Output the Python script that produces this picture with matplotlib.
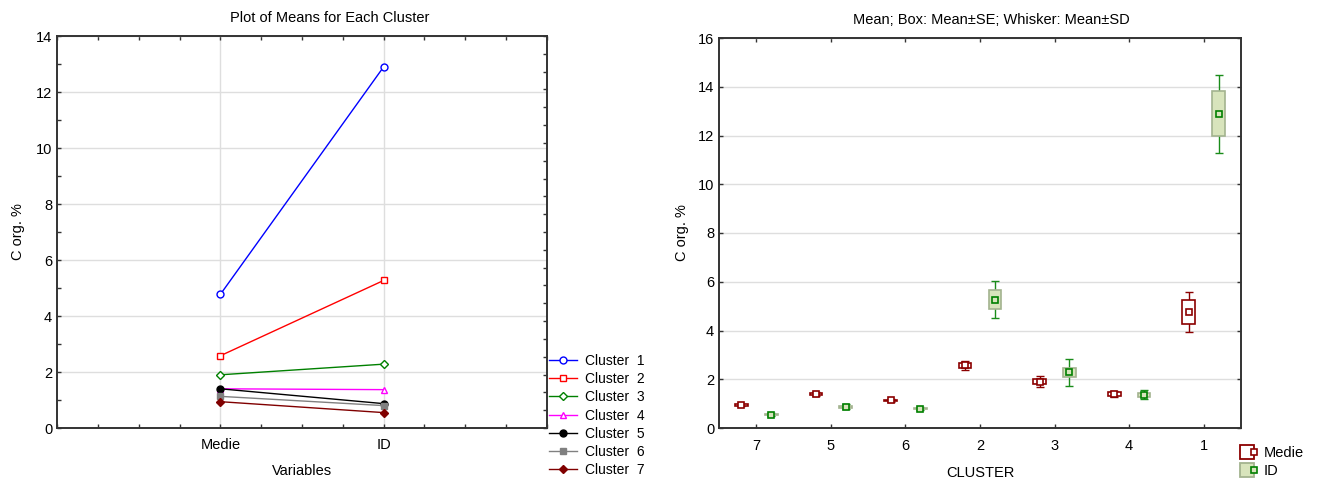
import numpy as np
import matplotlib
matplotlib.use("Agg")
import matplotlib.pyplot as plt
from matplotlib.lines import Line2D
from matplotlib.legend_handler import HandlerTuple
from matplotlib.ticker import MultipleLocator, FixedLocator

plt.rcParams['font.family'] = ['Liberation Sans', 'DejaVu Sans']

# ---- data ----
variables = ["Medie", "ID"]
cluster_ids = [1, 2, 3, 4, 5, 6, 7]
medie_mean = [4.77, 2.58, 1.90, 1.40, 1.40, 1.13, 0.94]
id_mean = [12.90, 5.27, 2.28, 1.37, 0.87, 0.80, 0.55]
medie_se = [0.49, 0.10, 0.10, 0.07, 0.04, 0.03, 0.03]
medie_sd = [0.83, 0.18, 0.22, 0.13, 0.08, 0.07, 0.05]
id_se = [0.93, 0.39, 0.17, 0.08, 0.05, 0.03, 0.03]
id_sd = [1.60, 0.75, 0.54, 0.18, 0.10, 0.06, 0.05]
cluster_order = [7, 5, 6, 2, 3, 4, 1]

line_colors = ["#0000ff", "#ff0000", "#008000", "#ff00ff", "#000000", "#808080", "#800000"]
line_markers = ["o", "s", "D", "^", "o", "s", "D"]
marker_fill = ["white", "white", "white", "white", "#000000", "#808080", "#800000"]
marker_sizes = [5, 5, 4, 5, 5, 5, 4]

dark = "#333333"
grid_c = "#dedede"
medie_c = "#8b0000"
id_line = "#1a8c1a"
id_fill = "#d8e4bc"
id_edge = "#a3b38f"

FS = 10.5
W, H = 1320, 482

fig = plt.figure(figsize=(13.2, 4.82), dpi=100)

# ---- left: cluster means per variable ----
ax1 = fig.add_axes([57 / W, 54 / H, 490 / W, 392 / H])
xpos = np.arange(len(variables))
for i, cid in enumerate(cluster_ids):
    ax1.plot(xpos, [medie_mean[i], id_mean[i]], color=line_colors[i], lw=1.0,
             marker=line_markers[i], ms=marker_sizes[i], mfc=marker_fill[i],
             mec=line_colors[i], mew=1.0, label=f"Cluster  {cid}", zorder=3)
ax1.set_xlim(-1, 2)
ax1.set_ylim(0, 14)
ax1.set_xticks(xpos)
ax1.set_xticklabels(variables)
ax1.xaxis.set_minor_locator(MultipleLocator(0.25))
ax1.yaxis.set_major_locator(MultipleLocator(2))
ax1.yaxis.set_minor_locator(MultipleLocator(1))
ax1.tick_params(axis="both", which="both", direction="in", color=dark, labelsize=FS)
ax1.tick_params(axis="x", which="both", top=True, length=3, width=1)
ax1.tick_params(axis="y", which="both", length=3, width=1)
ax1.tick_params(axis="x", pad=7)
ax1.grid(True, which="major", color=grid_c, lw=1.0, zorder=0)
ax1.set_axisbelow(True)
ax1.set_xlabel("Variables", fontsize=FS, labelpad=9)
ax1.set_ylabel("C org. %", fontsize=FS, labelpad=8)
for s in ax1.spines.values():
    s.set_color(dark)
    s.set_linewidth(1.4)
ax1r = ax1.twinx()
ax1r.set_ylim(0, 14)
ax1r.yaxis.set_major_locator(FixedLocator(np.linspace(0, 14, 23)))
ax1r.tick_params(axis="y", direction="in", length=3, width=1, color=dark, labelright=False)
for s in ax1r.spines.values():
    s.set_visible(False)

fig.text(330 / W, 1 - 18.5 / H, "Plot of Means for Each Cluster",
         fontsize=FS, ha="center", va="center")

h, l = ax1.get_legend_handles_labels()
fig.legend(h, l, loc="lower left", bbox_to_anchor=(549 / W, 5 / H),
           frameon=False, fontsize=10, handlelength=2.0, handletextpad=0.6,
           labelspacing=0.3, borderpad=0, borderaxespad=0)

# ---- right: mean, SE box, SD whisker by cluster ----
ax2 = fig.add_axes([719 / W, 54 / H, 522 / W, 390 / H])
cpos = np.arange(len(cluster_order))
idx = [cluster_ids.index(c) for c in cluster_order]
m_mean = np.array([medie_mean[i] for i in idx])
m_se = np.array([medie_se[i] for i in idx])
m_sd = np.array([medie_sd[i] for i in idx])
d_mean = np.array([id_mean[i] for i in idx])
d_se = np.array([id_se[i] for i in idx])
d_sd = np.array([id_sd[i] for i in idx])

off = 0.2
bw = 0.17
ax2.errorbar(cpos - off, m_mean, yerr=m_sd, fmt="none", ecolor=medie_c,
             elinewidth=1.0, capsize=3, capthick=1.0, zorder=2)
ax2.bar(cpos - off, 2 * m_se, bottom=m_mean - m_se, width=bw, color="white",
        edgecolor=medie_c, linewidth=1.2, zorder=3)
ax2.plot(cpos - off, m_mean, ls="none", marker="s", ms=4.2, mfc="white",
         mec=medie_c, mew=1.2, zorder=4)

ax2.errorbar(cpos + off, d_mean, yerr=d_sd, fmt="none", ecolor=id_line,
             elinewidth=1.0, capsize=3, capthick=1.0, zorder=2)
ax2.bar(cpos + off, 2 * d_se, bottom=d_mean - d_se, width=bw, color=id_fill,
        edgecolor=id_edge, linewidth=1.2, zorder=3)
ax2.plot(cpos + off, d_mean, ls="none", marker="s", ms=4.2, mfc=id_fill,
         mec="#008000", mew=1.2, zorder=4)

ax2.set_xlim(-0.5, 6.5)
ax2.set_ylim(0, 16)
ax2.set_xticks(cpos)
ax2.set_xticklabels([str(c) for c in cluster_order])
ax2.yaxis.set_major_locator(MultipleLocator(2))
ax2.tick_params(axis="both", direction="in", length=3, width=1, color=dark,
                labelsize=FS, top=True, right=True)
ax2.tick_params(axis="x", pad=8)
ax2.grid(True, axis="y", color=grid_c, lw=1.0, zorder=0)
ax2.set_axisbelow(True)
ax2.set_xlabel("CLUSTER", fontsize=FS, labelpad=9)
ax2.set_ylabel("C org. %", fontsize=FS, labelpad=6)
for s in ax2.spines.values():
    s.set_color(dark)
    s.set_linewidth(1.4)

fig.text(991 / W, 1 - 20.5 / H, "Mean; Box: Mean\u00b1SE; Whisker: Mean\u00b1SD",
         fontsize=FS, ha="center", va="center")

medie_handle = (Line2D([], [], ls="none", marker="s", ms=10, mfc="white",
                       mec=medie_c, mew=1.3),
                Line2D([], [], ls="none", marker="s", ms=4, mfc="white",
                       mec=medie_c, mew=1.2))
id_handle = (Line2D([], [], ls="none", marker="s", ms=10, mfc=id_fill,
                    mec=id_edge, mew=1.3),
             Line2D([], [], ls="none", marker="s", ms=4, mfc=id_fill,
                    mec="#008000", mew=1.2))
fig.legend([medie_handle, id_handle], ["Medie", "ID"],
           handler_map={tuple: HandlerTuple(ndivide=None, pad=0)},
           loc="upper left", bbox_to_anchor=(1243 / W, 36 / H),
           frameon=False, fontsize=FS, handlelength=1.0, handletextpad=0.4,
           labelspacing=0.3, borderpad=0, borderaxespad=0)

fig.savefig("out.png", dpi=100)
